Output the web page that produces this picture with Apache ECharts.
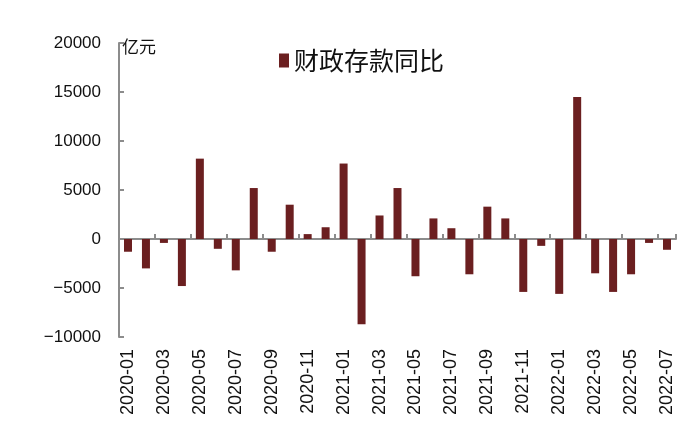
<!DOCTYPE html>
<html><head><meta charset="utf-8">
<script src="https://cdn.jsdelivr.net/npm/echarts@6/dist/echarts.min.js"></script>
<style>html,body{margin:0;padding:0;background:#fff}#c{width:700px;height:439px}</style>
</head><body><div id="c"></div>
<script>
const categories = [
 '2020-01','2020-02','2020-03','2020-04','2020-05','2020-06','2020-07','2020-08','2020-09','2020-10','2020-11','2020-12',
 '2021-01','2021-02','2021-03','2021-04','2021-05','2021-06','2021-07','2021-08','2021-09','2021-10','2021-11','2021-12',
 '2022-01','2022-02','2022-03','2022-04','2022-05','2022-06','2022-07'];
const fiscalDepositYoY = [
 -1300,-3000,-400,-4800,8200,-1000,-3200,5200,-1300,3500,500,1200,
 7700,-8700,2400,5200,-3800,2100,1100,-3600,3300,2100,-5400,-700,
 -5600,14500,-3500,-5400,-3600,-400,-1100];
const seriesName = '财政存款同比';
const unitLabel = '亿元';
const yTicks = {min:-10000, max:20000, interval:5000};

const fontLatin = '"Liberation Sans", Arial, "Noto Sans CJK SC", sans-serif';
const fontCJK = '"Noto Sans CJK SC", "Liberation Sans", sans-serif';
const axisGray = '#8c8c8c';
const chart = echarts.init(document.getElementById('c'), null, {renderer:'canvas'});
chart.setOption({
  animation:false,
  backgroundColor:'#fff',
  grid:{left:119, right:24, top:43, bottom:102},
  legend:{
    data:[seriesName], left:274, top:43, itemWidth:10, itemHeight:14, itemGap:6,
    icon:'rect',
    textStyle:{fontFamily:fontCJK, fontSize:25, color:'#111'}
  },
  graphic:[{type:'text', left:122, top:38, style:{text:unitLabel, font:'17px '+fontCJK, fill:'#111'}}],
  xAxis:[{
    type:'category', data:categories, position:'bottom',
    axisLine:{onZero:true, lineStyle:{color:axisGray, width:2}},
    axisTick:{show:true, inside:true, interval:1, length:5, lineStyle:{color:axisGray, width:2}},
    axisLabel:{show:false}, splitLine:{show:false}
  },{
    type:'category', data:categories, position:'bottom',
    axisLine:{show:false, onZero:false}, axisTick:{show:false},
    axisLabel:{show:true, interval:1, rotate:90, margin:12, fontFamily:fontLatin, fontSize:18, color:'#111'},
    splitLine:{show:false}
  }],
  yAxis:{
    type:'value', min:yTicks.min, max:yTicks.max, interval:yTicks.interval,
    axisLine:{show:true, lineStyle:{color:axisGray, width:2}},
    axisTick:{show:true, inside:true, length:5, lineStyle:{color:axisGray, width:2}},
    axisLabel:{fontFamily:fontLatin, fontSize:17, color:'#111', margin:18,
      formatter:v=> v<0 ? '\u2212'+Math.abs(v) : String(v)},
    splitLine:{show:false}
  },
  series:[{
    name:seriesName, type:'bar', xAxisIndex:0, data:fiscalDepositYoY, barWidth:8,
    itemStyle:{color:'#6b1f20'}
  }]
});
</script></body></html>
